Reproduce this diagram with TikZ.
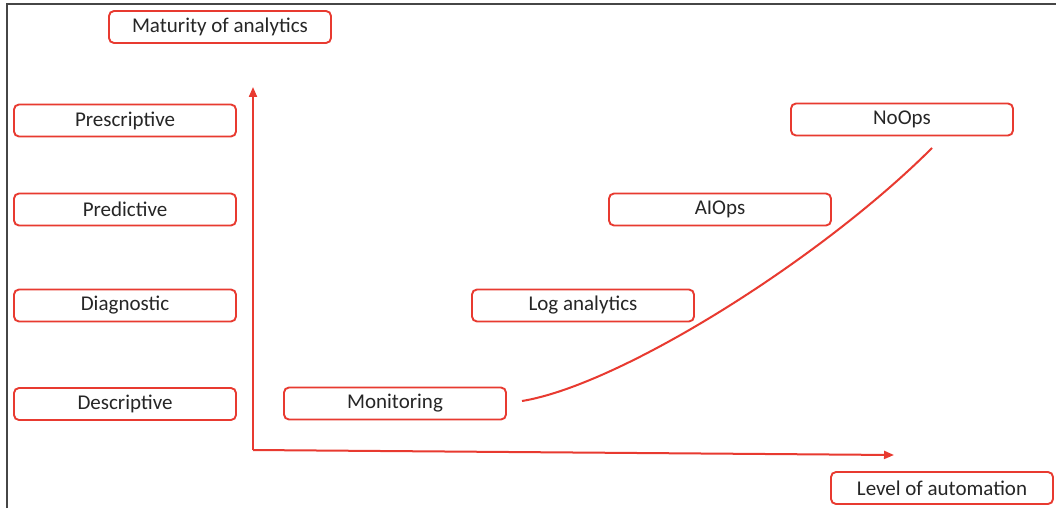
\documentclass[tikz,border=0pt]{standalone}
\usepackage{fontspec}
\setmainfont{Carlito}
\usetikzlibrary{arrows.meta}
\definecolor{boxred}{RGB}{232,58,48}
\definecolor{txt}{RGB}{38,38,38}
\definecolor{frame}{RGB}{70,70,70}
\begin{document}
\begin{tikzpicture}[x=1pt,y=-1pt,
  lbl/.style={draw=boxred,line width=1.9pt,rounded corners=5pt,fill=white,
    minimum width=222pt,minimum height=32pt,inner sep=0pt,
    font=\fontsize{21}{22}\selectfont,text=txt},
  axis/.style={draw=boxred,line width=2pt,-{Triangle[length=10pt,width=8pt]}},
  trend/.style={draw=boxred,line width=2pt}]
\useasboundingbox (0,0) rectangle (1056,508);
\fill[white] (0,0) rectangle (1056,508);
\draw[frame,line width=2pt] (7,508) -- (7,4.5) -- (1056,4.5);
\node[lbl] (mat) at (220,27) {Maturity of analytics};
\node[lbl] (pre) at (125,120.5) {Prescriptive};
\node[lbl] (pred) at (125,209.5) {Predictive};
\node[lbl] (diag) at (125,305.5) {Diagnostic};
\node[lbl] (desc) at (125,404) {Descriptive};
\node[lbl] (mon) at (395,403.5) {Monitoring};
\node[lbl] (log) at (583,305.5) {Log analytics};
\node[lbl] (aio) at (720,209.5) {AIOps};
\node[lbl] (noo) at (902,119.5) {NoOps};
\node[lbl] (lev) at (942,488) {Level of automation};
\coordinate (org) at (253,450);
\coordinate (yend) at (253,87);
\coordinate (xend) at (894,455);
\coordinate (cs) at (522,401);
\coordinate (ce) at (932,148);
\draw[axis] (org) -- (yend);
\draw[axis] (org) -- (xend);
\draw[trend] (cs) .. controls (620,385) and (820,260) .. (ce);
\end{tikzpicture}
\end{document}
